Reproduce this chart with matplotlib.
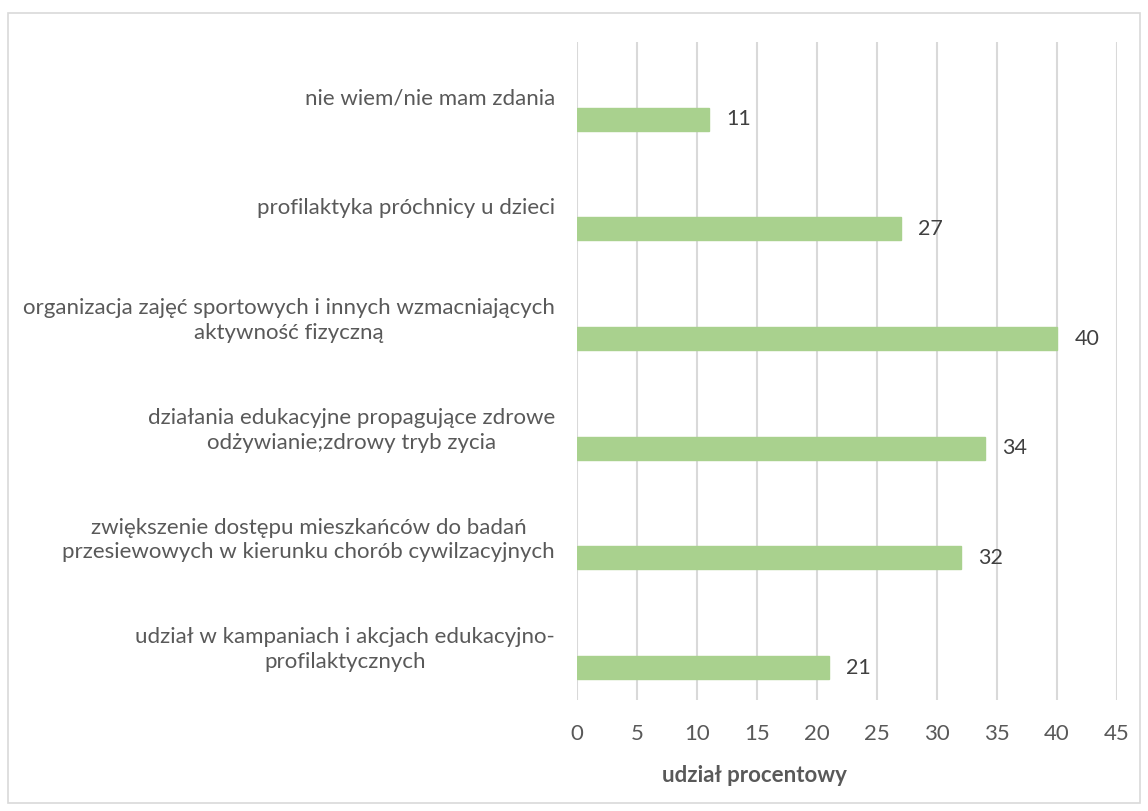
import matplotlib
matplotlib.use("Agg")
import matplotlib.pyplot as plt
from matplotlib.patches import Rectangle
import numpy as np

categories = [
    "nie wiem/nie mam zdania",
    "profilaktyka próchnicy u dzieci",
    "organizacja zajęć sportowych i innych wzmacniających\naktywność fizyczną",
    "działania edukacyjne propagujące zdrowe\nodżywianie;zdrowy tryb zycia",
    "zwiększenie dostępu mieszkańców do badań\nprzesiewowych w kierunku chorób cywilzacyjnych",
    "udział w kampaniach i akcjach edukacyjno-\nprofilaktycznych",
]
values = [11, 27, 40, 34, 32, 21]
xticks = [0, 5, 10, 15, 20, 25, 30, 35, 40, 45]
xlabel = "udział procentowy"

TXT = "#595959"
plt.rcParams['font.family'] = ['Lato', 'DejaVu Sans']

W, H = 1148, 811
fig = plt.figure(figsize=(W / 100, H / 100), dpi=100)
fig.patch.set_facecolor("white")
fig.patches.append(Rectangle((8 / W, 1 - 803 / H), (1140 - 8) / W, (803 - 13) / H,
                             transform=fig.transFigure, fill=False,
                             edgecolor="#D9D9D9", linewidth=1.2))

ax = fig.add_axes([577 / W, 1 - 700 / H, 540 / W, 658 / H])
n = len(categories)
ypos = np.arange(n)
ax.barh(ypos + 0.205, values, height=0.21, color="#A9D18E", edgecolor="#A9D18E", zorder=3)
for y, v in zip(ypos, values):
    ax.text(v + 1.45, y + 0.205, str(v), va="center", ha="left", fontsize=15.5, color="#404040")

ax.set_ylim(n - 0.5, -0.5)
ax.set_xlim(0, 45)
ax.set_xticks(xticks)
ax.set_xticklabels([str(t) for t in xticks], fontsize=16, color=TXT)
ax.set_yticks(ypos)
ax.set_yticklabels(categories, fontsize=16, color=TXT)
for lbl in ax.get_yticklabels():
    lbl.set_multialignment("center")
    lbl.set_linespacing(1.3)
ax.tick_params(axis="y", length=0, pad=16)
ax.tick_params(axis="x", length=0, pad=17)
ax.grid(axis="x", color="#D9D9D9", linewidth=1.5, zorder=0)
for s in ax.spines.values():
    s.set_visible(False)

fig.text(754 / W, 1 - 775 / H, xlabel, ha="center", va="center",
         fontsize=16, fontweight="bold", color=TXT)

fig.savefig("out.png", dpi=100, facecolor="white")
